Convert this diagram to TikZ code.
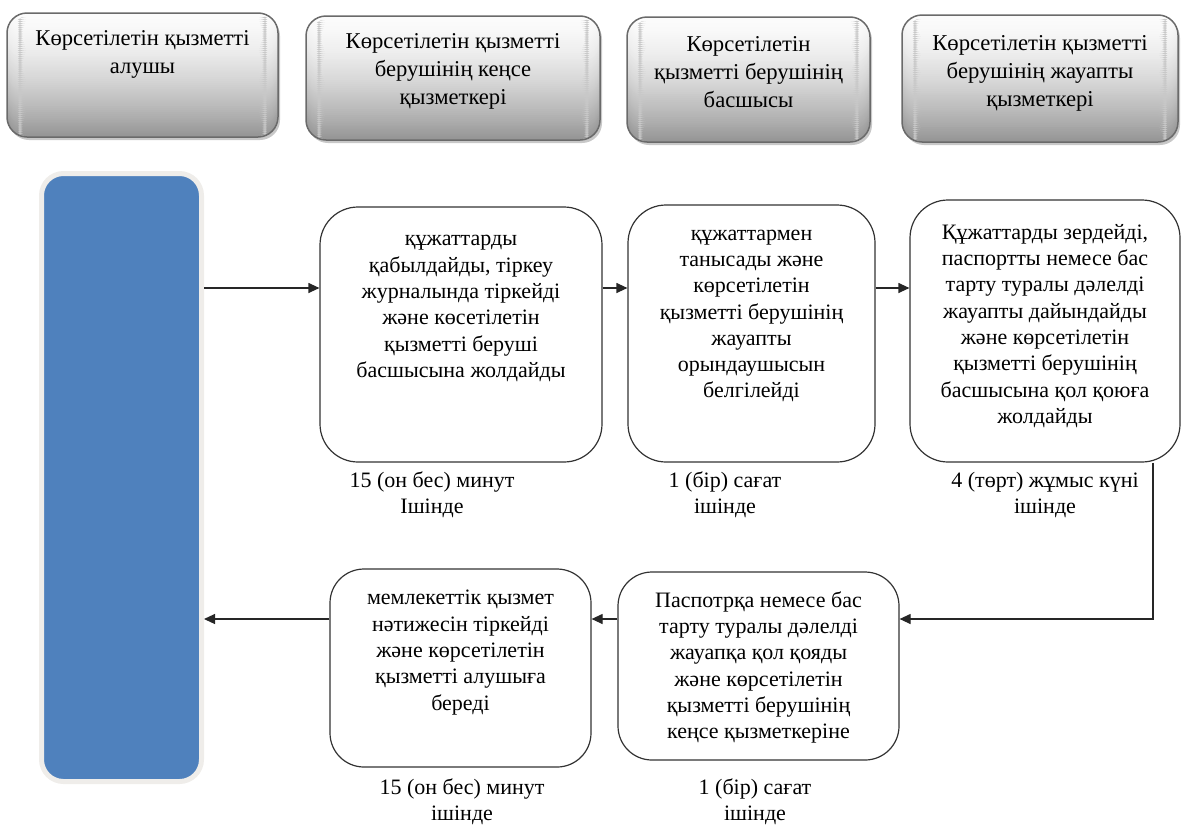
\documentclass[tikz,border=0pt]{standalone}
\usepackage{fontspec}
\setmainfont{Liberation Serif}
\usetikzlibrary{arrows.meta,calc}
\definecolor{barblue}{HTML}{4F81BD}
\definecolor{hdrtop}{HTML}{FCFCFC}
\definecolor{hdrbot}{HTML}{959595}
\definecolor{hdrline}{HTML}{6A6A6A}
\definecolor{glow}{HTML}{EFEDEA}
\definecolor{shadowgray}{HTML}{C8C8C8}
\begin{document}
\begin{tikzpicture}[x=1pt,y=-1pt,
 hdr/.style={draw=hdrline, line width=1.5pt, rounded corners=20pt, inner sep=0pt,
   path picture={
     \foreach \i in {0,...,59}{
       \pgfmathtruncatemacro\p{100-100*((\i+0.5)/60)^1.6}
       \fill[hdrtop!\p!hdrbot]
         ($(path picture bounding box.north west)!\i/60!(path picture bounding box.south west)$)
         rectangle
         ($(path picture bounding box.north east)!{(\i+1.3)/60}!(path picture bounding box.south east)$);
     }}},
 hsh/.style={fill=shadowgray, rounded corners=20pt, inner sep=0pt},
 proc/.style={draw=black!80, line width=1.2pt, rounded corners=38pt, inner sep=0pt},
 btxt/.style={font=\fontsize{22}{26.3}\selectfont, align=center, inner sep=0pt},
 ltxt/.style={font=\fontsize{22}{26}\selectfont, align=center, inner sep=0pt},
 arr/.style={draw=black!85, line width=1.2pt, -{Triangle[length=11pt,width=10pt]}},
]
\useasboundingbox (0,0) rectangle (1182,825);

% texts of the process boxes and time labels (set first)
\node[btxt] (tA) at (461,308.5) {құжаттарды\\қабылдайды, тіркеу\\журналында тіркейді\\және көсетілетін\\қызметті беруші\\басшысына жолдайды};
\node[btxt] (tB) at (751.5,316) {құжаттармен\\танысады және\\көрсетілетін\\қызметті берушінің\\жауапты\\орындаушысын\\белгілейді};
\node[btxt] (tC) at (1045,326) {Құжаттарды зердейді,\\паспортты немесе бас\\тарту туралы дәлелді\\жауапты дайындайды\\және көрсетілетін\\қызметті берушінің\\басшысына қол қоюға\\жолдайды};
\node[btxt] (tD) at (758.5,667.5) {Паспотрқа немесе бас\\тарту туралы дәлелді\\жауапқа қол қояды\\және көрсетілетін\\қызметті берушінің\\кеңсе қызметкеріне};
\node[btxt] (tE) at (460.5,652.5) {мемлекеттік қызмет\\нәтижесін тіркейді\\және көрсетілетін\\қызметті алушыға\\береді};
\node[ltxt] (l1) at (432,494.5) {15 (он бес) минут\\Ішінде};
\node[ltxt] (l2) at (725,494.5) {1 (бір) сағат\\ішінде};
\node[ltxt] (l3) at (1045,495) {4 (төрт) жұмыс күні\\ішінде};
\node[ltxt] (l4) at (462,802) {15 (он бес) минут\\ішінде};
\node[ltxt] (l5) at (755,801.5) {1 (бір) сағат\\ішінде};

% header shadows
\node[hsh, minimum width=271pt, minimum height=124pt] (s1) at (144.5,78) {};
\node[hsh, minimum width=294pt, minimum height=124pt] (s2) at (455,81) {};
\node[hsh, minimum width=243pt, minimum height=125pt] (s3) at (750.5,82.5) {};
\node[hsh, minimum width=276pt, minimum height=127pt] (s4) at (1042,81.5) {};
% header boxes
\node[hdr, minimum width=271pt, minimum height=124pt] (h1) at (142.5,75) {};
\node[hdr, minimum width=294pt, minimum height=124pt] (h2) at (453,78) {};
\node[hdr, minimum width=243pt, minimum height=125pt] (h3) at (748.5,79.5) {};
\node[hdr, minimum width=276pt, minimum height=127pt] (h4) at (1040,78.5) {};

\node[font=\fontsize{22.55}{28}\selectfont, align=center, inner sep=0pt] (th1) at (142.5,54.5) {Көрсетілетін қызметті\\алушы};
\node[font=\fontsize{22.6}{28}\selectfont, align=center, inner sep=0pt] (th2) at (453,71.5) {Көрсетілетін қызметті\\берушінің кеңсе\\қызметкері};
\node[font=\fontsize{22.65}{28}\selectfont, align=center, inner sep=0pt] (th3) at (748.5,72.5) {Көрсетілетін\\қызметті берушінің\\басшысы};
\node[font=\fontsize{22.7}{28}\selectfont, align=center, inner sep=0pt] (th4) at (1040,73.5) {Көрсетілетін қызметті\\берушінің жауапты\\қызметкері};

% blue bar
\node[fill=barblue, draw=glow, line width=5pt, rounded corners=22pt, minimum width=160pt, minimum height=608pt, inner sep=0pt] (bar) at (121.5,477.5) {};

% process boxes (outlines only, white background shows through)
\node[proc, minimum width=282pt, minimum height=255pt] (A) at (461,334.5) {};
\node[proc, minimum width=247pt, minimum height=257pt] (B) at (751.5,333.5) {};
\node[proc, minimum width=270pt, minimum height=262pt] (C) at (1045,331) {};
\node[proc, minimum width=281pt, minimum height=188pt, rounded corners=34pt] (D) at (758.5,666) {};
\node[proc, minimum width=261pt, minimum height=198pt, rounded corners=34pt] (E) at (460.5,668) {};

% connectors
\coordinate (r1) at (0,288);
\coordinate (r2) at (0,619);
\coordinate (cx) at (1153,0);
\draw[arr] (bar.east |- r1) -- (A.west |- r1);
\draw[arr] (A.east |- r1) -- (B.west |- r1);
\draw[arr] (B.east |- r1) -- (C.west |- r1);
\draw[arr] (cx |- C.south) -- (cx |- r2) -- (D.east |- r2);
\draw[arr] (D.west |- r2) -- (E.east |- r2);
\draw[arr] (E.west |- r2) -- (bar.east |- r2);
\end{tikzpicture}
\end{document}
